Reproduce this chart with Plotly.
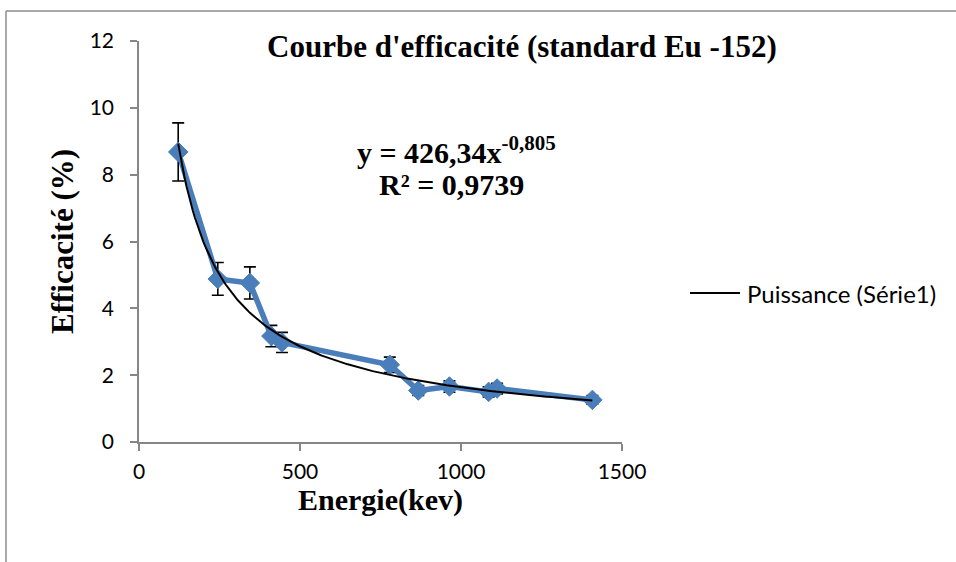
import plotly.graph_objects as go

# Eu-152 gamma lines (keV) and measured detector efficiency (%)
energie_kev = [121.78, 244.70, 344.28, 411.12, 443.96, 778.90, 867.38, 964.08, 1085.84, 1112.08, 1408.01]
efficacite = [8.68, 4.88, 4.76, 3.17, 2.98, 2.31, 1.54, 1.66, 1.50, 1.60, 1.26]
erreur = [0.87, 0.49, 0.48, 0.32, 0.30, 0.23, 0.15, 0.17, 0.15, 0.16, 0.13]

# Power-law trend line coefficients (y = a * x^b), as printed on the chart
coef_a = 426.34
coef_b = -0.805
r2_text = "0,9739"

x_ticks = [0, 500, 1000, 1500]
y_ticks = [0, 2, 4, 6, 8, 10, 12]

# Trend curve sampled over the data range
n = 200
e_min, e_max = min(energie_kev), max(energie_kev)
trend_x = [e_min + (e_max - e_min) * i / (n - 1) for i in range(n)]
trend_y = [coef_a * x ** coef_b for x in trend_x]

blue = "#4A7EBB"
axis_grey = "#868686"
serif = "Liberation Serif, Times New Roman, serif"
sans = "Lato, Open Sans, sans-serif"

fig = go.Figure()

fig.add_trace(go.Scatter(
    x=energie_kev, y=efficacite,
    mode="lines+markers",
    line=dict(color=blue, width=5.5),
    marker=dict(symbol="diamond", size=15, color=blue, line=dict(color=blue, width=1)),
    error_y=dict(type="data", array=erreur, visible=True, color="black", thickness=1.6, width=6),
    showlegend=False,
    hoverinfo="x+y",
))

fig.add_trace(go.Scatter(
    x=trend_x, y=trend_y,
    mode="lines",
    line=dict(color="black", width=2),
    name="Puissance (Série1)",
    showlegend=False,
    hoverinfo="skip",
))

# pixel -> paper helpers for the plot area (x: 139..622, y: 41..442)
def px_x(px):
    return (px - 139) / 483.0

def px_y(py):
    return (442 - py) / 401.0

fig.update_layout(
    width=956, height=562,
    margin=dict(l=139, r=334, t=41, b=120),
    paper_bgcolor="white",
    plot_bgcolor="white",
    showlegend=False,
    xaxis=dict(
        range=[0, 1500], tickvals=x_ticks, ticktext=[str(v) for v in x_ticks],
        showgrid=False, zeroline=False,
        showline=True, linecolor=axis_grey, linewidth=1.5,
        ticks="outside", ticklen=7, tickcolor=axis_grey, tickwidth=1.5,
        tickfont=dict(family=sans, size=21, color="black"),
        ticklabelstandoff=3,
        fixedrange=True,
    ),
    yaxis=dict(
        range=[0, 12], tickvals=y_ticks, ticktext=[str(v) for v in y_ticks],
        showgrid=False, zeroline=False,
        showline=True, linecolor=axis_grey, linewidth=1.5,
        ticks="outside", ticklen=7, tickcolor=axis_grey, tickwidth=1.5,
        tickfont=dict(family=sans, size=21, color="black"),
        ticklabelstandoff=12,
        fixedrange=True,
    ),
    shapes=[
        # chart-area frame (left and top edges)
        dict(type="line", xref="paper", yref="paper",
             x0=px_x(6), y0=px_y(570), x1=px_x(6), y1=px_y(11),
             line=dict(color="#8C8C8C", width=1.5)),
        dict(type="line", xref="paper", yref="paper",
             x0=px_x(6), y0=px_y(11), x1=px_x(960), y1=px_y(11),
             line=dict(color="#8C8C8C", width=1.5)),
        # legend key for the trend line
        dict(type="line", xref="paper", yref="paper",
             x0=px_x(690), y0=px_y(293), x1=px_x(740), y1=px_y(293),
             line=dict(color="black", width=2)),
    ],
    annotations=[
        dict(text="Puissance (Série1)",
             xref="paper", yref="paper", x=px_x(745), y=px_y(293),
             xanchor="left", yanchor="middle", showarrow=False,
             font=dict(family=sans, size=24, color="black")),
        dict(text="<b>Courbe d'efficacité (standard Eu -152)</b>",
             xref="paper", yref="paper", x=px_x(522), y=px_y(46),
             xanchor="center", yanchor="middle", showarrow=False,
             font=dict(family=serif, size=31, color="black")),
        dict(text="<b>y = 426,34x<sup>-0,805</sup></b>",
             xref="paper", yref="paper", x=px_x(456), y=px_y(150),
             xanchor="center", yanchor="middle", showarrow=False,
             font=dict(family=serif, size=30, color="black")),
        dict(text="<b>R² = " + r2_text + "</b>",
             xref="paper", yref="paper", x=px_x(451), y=px_y(185),
             xanchor="center", yanchor="middle", showarrow=False,
             font=dict(family=serif, size=30, color="black")),
        dict(text="<b>Energie(kev)</b>",
             xref="paper", yref="paper", x=px_x(380), y=px_y(500),
             xanchor="center", yanchor="middle", showarrow=False,
             font=dict(family=serif, size=30, color="black")),
        dict(text="<b>Efficacité (%)</b>",
             xref="paper", yref="paper", x=px_x(62), y=px_y(242),
             xanchor="center", yanchor="middle", showarrow=False, textangle=-90,
             font=dict(family=serif, size=31, color="black")),
    ],
)

fig.write_html("out.html")
